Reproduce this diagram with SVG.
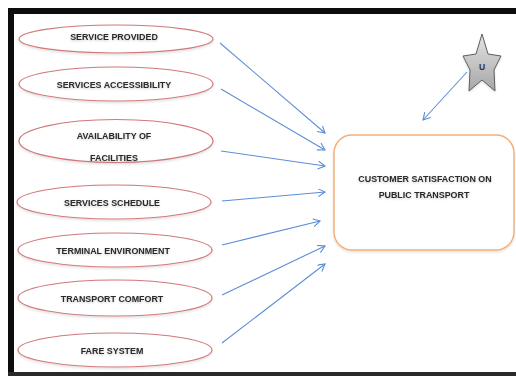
<svg xmlns="http://www.w3.org/2000/svg" width="516" height="376" viewBox="0 0 516 376">
  <style>
    .factor ellipse { fill: #ffffff; stroke: #d2797b; stroke-width: 1.2; filter: url(#soft); }
    .label { font-family: "Liberation Sans", Arial, sans-serif; font-size: 8.9px; font-weight: bold; fill: #2b2b2b; text-anchor: middle; filter: url(#txtshadow); }
    .link { fill: none; stroke: #5b8ed6; stroke-width: 1.1; marker-end: url(#arrow); }
    .frame { fill: #0d0d0d; }
  </style>
  <defs>
    <marker id="arrow" markerUnits="userSpaceOnUse" markerWidth="12" markerHeight="12" refX="8" refY="4" orient="auto">
      <path d="M1,0 L8,4 L1,8" fill="none" stroke="#5b8ed6" stroke-width="1.1"/>
    </marker>
    <filter id="soft" x="-10%" y="-30%" width="120%" height="170%">
      <feDropShadow dx="0" dy="1.5" stdDeviation="1.2" flood-color="#000" flood-opacity="0.12"/>
    </filter>
    <filter id="txtshadow" x="-5%" y="-30%" width="110%" height="170%">
      <feDropShadow dx="0" dy="1" stdDeviation="0.8" flood-color="#000" flood-opacity="0.22"/>
    </filter>
    <linearGradient id="starfill" x1="0" y1="0" x2="0" y2="1">
      <stop offset="0" stop-color="#e4e4e4"/>
      <stop offset="1" stop-color="#a6a6a6"/>
    </linearGradient>
  </defs>

  <!-- page background and frame (top, left and bottom edges) -->
  <rect x="0" y="0" width="516" height="376" fill="#ffffff"/>
  <rect class="frame" x="8" y="8" width="508" height="6"/>
  <rect class="frame" x="8" y="8" width="6" height="368"/>
  <rect x="8" y="372" width="508" height="4" fill="#2a2a2a"/>

  <!-- factor nodes -->
  <g id="service-provided" class="factor">
    <ellipse cx="116" cy="39" rx="97" ry="14"/>
    <text class="label" x="114" y="40">SERVICE PROVIDED</text>
  </g>
  <g id="services-accessibility" class="factor">
    <ellipse cx="116" cy="84" rx="97" ry="17"/>
    <text class="label" x="114" y="88">SERVICES ACCESSIBILITY</text>
  </g>
  <g id="availability-of-facilities" class="factor">
    <ellipse cx="116" cy="141" rx="97" ry="21.5"/>
    <text class="label" x="114" y="139">AVAILABILITY OF</text>
    <text class="label" x="114" y="161">FACILITIES</text>
  </g>
  <g id="services-schedule" class="factor">
    <ellipse cx="114" cy="202" rx="97" ry="17"/>
    <text class="label" x="112" y="206">SERVICES SCHEDULE</text>
  </g>
  <g id="terminal-environment" class="factor">
    <ellipse cx="115" cy="250" rx="97" ry="17"/>
    <text class="label" x="113" y="254">TERMINAL ENVIRONMENT</text>
  </g>
  <g id="transport-comfort" class="factor">
    <ellipse cx="115" cy="298" rx="97" ry="18"/>
    <text class="label" x="112" y="302">TRANSPORT COMFORT</text>
  </g>
  <g id="fare-system" class="factor">
    <ellipse cx="115" cy="350" rx="97" ry="17"/>
    <text class="label" x="112" y="354">FARE SYSTEM</text>
  </g>

  <!-- outcome node -->
  <g id="customer-satisfaction">
    <rect x="334" y="135" width="180" height="115" rx="18" fill="#ffffff" stroke="#f5b07a" stroke-width="1.5" filter="url(#soft)"/>
    <text class="label" x="425" y="182">CUSTOMER SATISFACTION ON</text>
    <text class="label" x="424" y="198">PUBLIC TRANSPORT</text>
  </g>

  <!-- unobserved factor -->
  <g id="u-star">
    <polygon points="482,34 488,54 501,56 494,70 495,91 482,80 469,91 470,70 463,56 476,54" fill="url(#starfill)" stroke="#5e5e5e" stroke-width="1" filter="url(#soft)"/>
    <text x="482" y="70" font-family="Liberation Sans, Arial, sans-serif" font-size="8.5" font-weight="bold" fill="#333333" text-anchor="middle">U</text>
  </g>

  <!-- connectors -->
  <g id="connectors">
    <line class="link" x1="220" y1="43" x2="325" y2="133"/>
    <line class="link" x1="221" y1="89" x2="325" y2="150"/>
    <line class="link" x1="221" y1="151" x2="325" y2="166"/>
    <line class="link" x1="222" y1="201" x2="325" y2="192"/>
    <line class="link" x1="222" y1="245" x2="320" y2="221"/>
    <line class="link" x1="222" y1="295" x2="325" y2="246"/>
    <line class="link" x1="222" y1="343" x2="325" y2="264"/>
    <line class="link" x1="467" y1="72" x2="423" y2="120"/>
  </g>
</svg>
